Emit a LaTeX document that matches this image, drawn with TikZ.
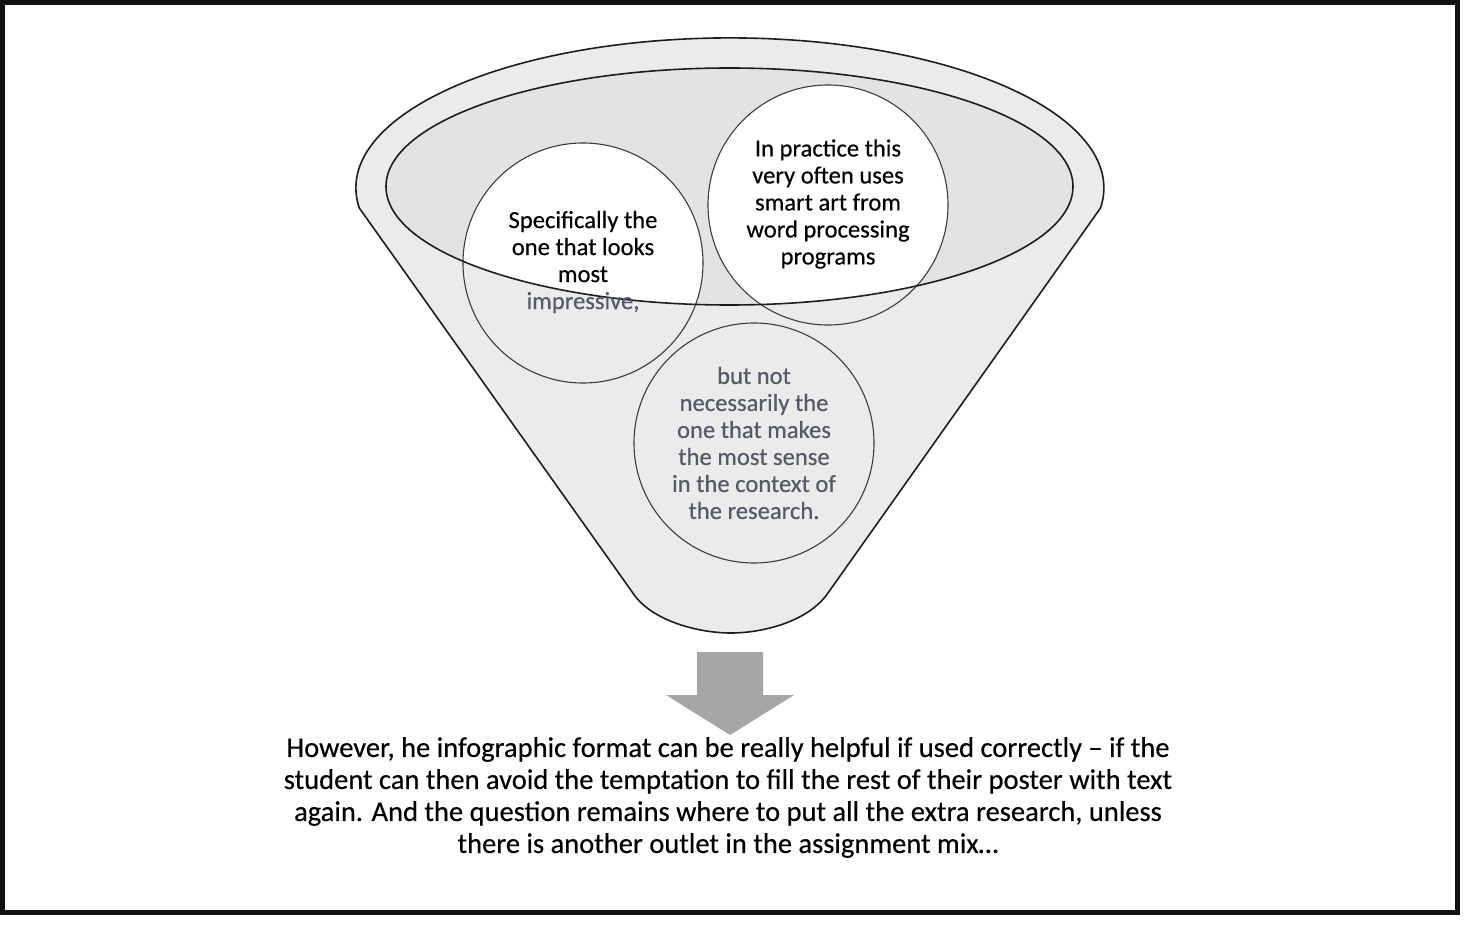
\documentclass[tikz,border=0pt]{standalone}
\usepackage{fontspec}
\setmainfont{Carlito}
\newfontfamily\heavyfont{Carlito}[FakeBold=0.4,AutoFakeBold=0.4]
\definecolor{bodygray}{HTML}{EBEBEB}
\definecolor{innergray}{HTML}{E3E3E3}
\definecolor{rimline}{HTML}{1E1E1E}
\definecolor{circline}{HTML}{3C3C3C}
\definecolor{dimtext}{HTML}{555A66}
\definecolor{arrowgray}{HTML}{A6A6A6}
\definecolor{framecol}{HTML}{111111}
\tikzset{
  rim/.style={draw=rimline, line width=1.6pt},
  bubble/.style={circle, draw=circline, line width=1.1pt, minimum size=240pt, inner sep=0pt, align=center,
    font=\heavyfont\bfseries\fontsize{24.6}{27}\selectfont},
  bubbletext/.style={align=center, font=\heavyfont\bfseries\fontsize{24.6}{27}\selectfont},
  caption/.style={align=center, font=\heavyfont\bfseries\fontsize{28.5}{32}\selectfont, text=black}
}
\begin{document}
\begin{tikzpicture}[x=1pt,y=-1pt]
\useasboundingbox (0,0) rectangle (1468,933);
\fill[white] (0,0) rectangle (1468,933);
% frame
\draw[framecol, line width=5pt] (2.5,2.5) rectangle (1457,912);

% funnel body
\coordinate (lt) at (359.3,208);
\coordinate (rt) at (1100.7,208);
\coordinate (lb) at (635,596);
\coordinate (rb) at (828,593);
\path[fill=bodygray, rim] (lt) arc[start angle=187.7, end angle=-7.7, x radius=374pt, y radius=150pt]
  -- (rb) .. controls (808,622) and (762,633) .. (731,633)
  .. controls (700,633) and (655,622) .. (lb) -- cycle;

% inner ellipse fill
\fill[innergray] (729.5,186.5) ellipse[x radius=343.5pt, y radius=118.5pt];

% bottom circle
\node[bubble, fill=bodygray, text=dimtext] (c3) at (754,443)
  {but not\\necessarily the\\one that makes\\the most sense\\in the context of\\the research.};

% white parts of the upper circles inside the mouth
\begin{scope}
  \clip (729.5,186.5) ellipse[x radius=343.5pt, y radius=118.5pt];
  \fill[white] (583,263) circle[radius=120pt];
  \fill[white] (828,205) circle[radius=120pt];
\end{scope}

\node[bubble] (c1) at (583,263) {};
\node[bubble] (c2) at (828,205) {};

% rim of the mouth
\draw[rim] (729.5,186.5) ellipse[x radius=343.5pt, y radius=118.5pt];

% texts of upper circles
\node[bubbletext] (t1) at (583,262)
  {Specifically the\\one that looks\\most\\\textcolor{dimtext}{impressive,}};
\node[bubbletext] (t2) at (828,204)
  {In practice this\\very often uses\\smart art from\\word processing\\programs};

% down arrow
\fill[arrowgray] (697,652) -- (763,652) -- (763,695) -- (794,695) -- (730,735)
  -- (666,695) -- (697,695) -- cycle;

% caption
\node[caption] (cap) at (728,797.5)
  {However, he infographic format can be really helpful if used correctly – if the\\
   student can then avoid the temptation to fill the rest of their poster with text\\
   again. And the question remains where to put all the extra research, unless\\
   there is another outlet in the assignment mix…};
\end{tikzpicture}
\end{document}
